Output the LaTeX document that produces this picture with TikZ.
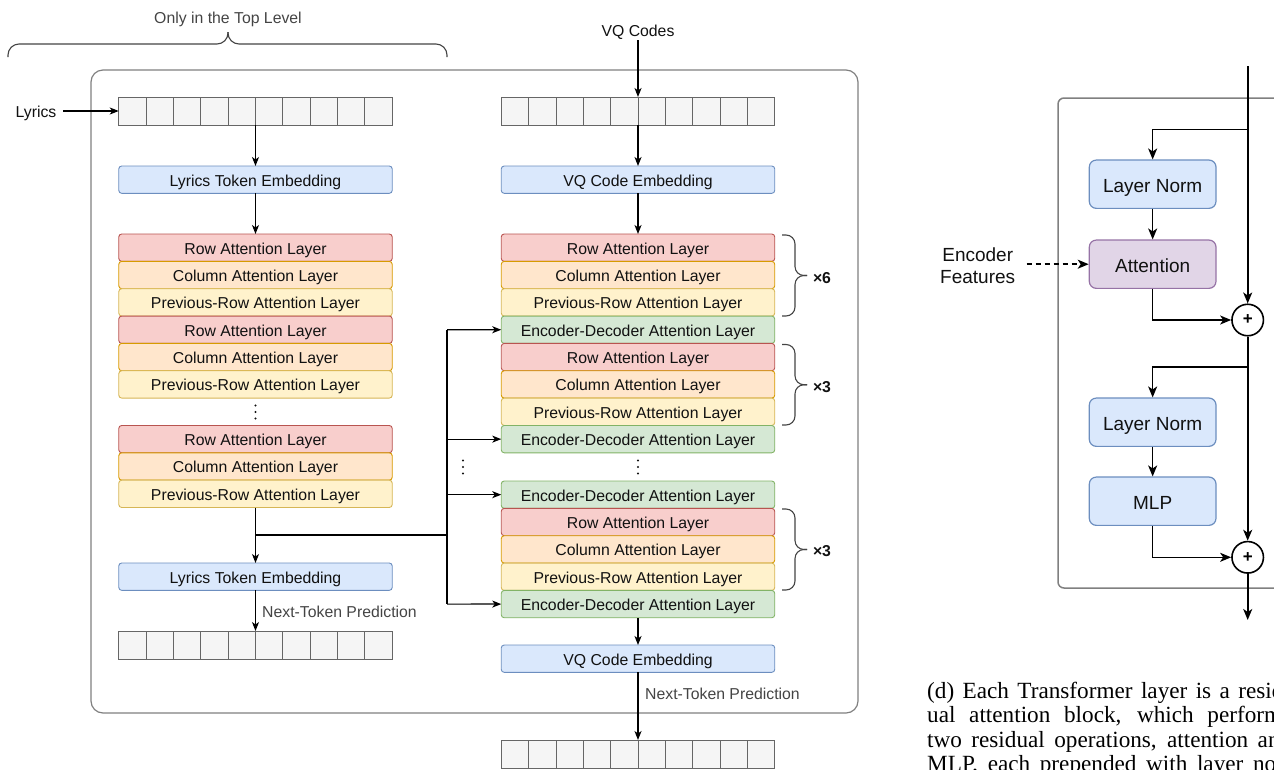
\documentclass[tikz,border=0pt]{standalone}
\usepackage{fontspec}
\setmainfont{Liberation Sans}
\newfontfamily\capfont{Liberation Serif}
\usetikzlibrary{arrows.meta,calc}
\definecolor{rowF}{HTML}{F8CECC}\definecolor{rowD}{HTML}{B85450}
\definecolor{colF}{HTML}{FFE6CC}\definecolor{colD}{HTML}{D79B00}
\definecolor{prvF}{HTML}{FFF2CC}\definecolor{prvD}{HTML}{D6B656}
\definecolor{encF}{HTML}{D5E8D4}\definecolor{encD}{HTML}{82B366}
\definecolor{bluF}{HTML}{DAE8FC}\definecolor{bluD}{HTML}{6C8EBF}
\definecolor{purF}{HTML}{E1D5E7}\definecolor{purD}{HTML}{9673A6}
\definecolor{cellF}{HTML}{F5F5F5}\definecolor{cellD}{HTML}{666666}
\definecolor{txt}{HTML}{111111}
\definecolor{gtxt}{HTML}{444444}
\definecolor{frameC}{HTML}{808080}
\newcommand\tokstrip[2]{%
  \node[strip] (#1) at (#2) {};
  \foreach \i in {1,...,9}{\draw[cellD, line width=0.9pt] ($(#1.north west)+(\i*27.35,0)$) -- ($(#1.south west)+(\i*27.35,0)$);}
}
\newcommand\rbrc[3]{%
  \draw[brc] (#1,#2) -- (#1+13,#2) -- (#1+13,{(#2+#3)/2}) -- (#1+25,{(#2+#3)/2});
  \draw[brc] (#1+25,{(#2+#3)/2}) -- (#1+13,{(#2+#3)/2}) -- (#1+13,#3) -- (#1,#3);
}
\newcommand\vdotsat[1]{%
  \fill[txt] ($(#1)+(0,-6.5)$) circle (1.1pt);
  \fill[txt] (#1) circle (1.1pt);
  \fill[txt] ($(#1)+(0,6.5)$) circle (1.1pt);
}
\begin{document}
\begin{tikzpicture}[x=1pt,y=-1pt,
  lay/.style={rounded corners=3pt, minimum width=273.5pt, minimum height=27.35pt, inner sep=0pt, outer sep=0pt, line width=0.9pt, font=\fontsize{15.8}{18}\selectfont, text=txt, text height=13pt, text depth=0pt, anchor=north},
  rowL/.style={lay, draw=rowD, fill=rowF},
  colL/.style={lay, draw=colD, fill=colF},
  prvL/.style={lay, draw=prvD, fill=prvF},
  encL/.style={lay, draw=encD, fill=encF},
  blu/.style={lay, draw=bluD, fill=bluF},
  strip/.style={draw=cellD, fill=cellF, minimum width=273.5pt, minimum height=28pt, inner sep=0pt, outer sep=0pt, line width=0.9pt},
  lab/.style={inner sep=0pt, font=\fontsize{15.8}{18}\selectfont, text=txt, text height=13pt, text depth=0pt},
  glab/.style={inner sep=0pt, font=\fontsize{15.8}{18}\selectfont, text=gtxt, text height=13pt, text depth=0pt},
  ln/.style={line width=1.2pt, draw=black},
  arr/.style={ln, -{Stealth[length=9pt,width=7pt,inset=2.5pt]}},
  brc/.style={draw=gtxt, line width=1.1pt, rounded corners=9pt},
  mult/.style={inner sep=0pt, font=\bfseries\fontsize{15.8}{18}\selectfont, text=txt, text height=13pt, text depth=0pt},
  rb/.style={rounded corners=7pt, minimum width=126.7pt, minimum height=48.3pt, inner sep=0pt, line width=1.2pt, font=\fontsize{19}{22}\selectfont, text=txt, text height=16.5pt, text depth=0pt},
  ln2/.style={line width=1.6pt, draw=black},
  arr2/.style={ln2, -{Stealth[length=11pt,width=9pt,inset=3pt]}},
  sumc/.style={circle, draw=black, fill=white, line width=1.6pt, minimum size=31.5pt, inner sep=0pt, font=\bfseries\fontsize{17}{17}\selectfont}
]
\useasboundingbox (0,0) rectangle (1274,769);
\clip (0,0) rectangle (1274,769);

% ---------- main panel ----------
\draw[frameC, line width=1.2pt, rounded corners=12pt] (91,70) rectangle (858,713);

% top brace
\node[glab] (toplvl) at (228,17) {Only in the Top Level};
\draw[brc, rounded corners=11pt] (8,57) -- (8,44) -- (228,44) -- (228,32);
\draw[brc, rounded corners=11pt] (228,32) -- (228,44) -- (447,44) -- (447,57);

% ---------- left column ----------
\node[lab] (lyr) at (36,111) {Lyrics};
\tokstrip{ltok}{255.5,111}
\node[blu] (lte1) at (255.5,166) {Lyrics Token Embedding};
\node[rowL] (lr1) at (255.5,234) {Row Attention Layer};
\node[colL] (lc1) at (255.5,261.35) {Column Attention Layer};
\node[prvL] (lp1) at (255.5,288.7) {Previous-Row Attention Layer};
\node[rowL] (lr2) at (255.5,316.05) {Row Attention Layer};
\node[colL] (lc2) at (255.5,343.4) {Column Attention Layer};
\node[prvL] (lp2) at (255.5,370.75) {Previous-Row Attention Layer};
\coordinate (ldots) at (255.5,412);
\vdotsat{ldots}
\node[rowL] (lr3) at (255.5,425.45) {Row Attention Layer};
\node[colL] (lc3) at (255.5,452.8) {Column Attention Layer};
\node[prvL] (lp3) at (255.5,480.15) {Previous-Row Attention Layer};
\node[blu] (lte2) at (255.5,563) {Lyrics Token Embedding};
\tokstrip{lout}{255.5,645}
\node[glab, anchor=west] (ntp1) at (262,611) {Next-Token Prediction};

% ---------- right column ----------
\node[lab] (vqc) at (638,29.5) {VQ Codes};
\tokstrip{rtok}{638,111}
\node[blu] (vce1) at (638,166) {VQ Code Embedding};
\node[rowL] (rr1) at (638,234) {Row Attention Layer};
\node[colL] (rc1) at (638,261.35) {Column Attention Layer};
\node[prvL] (rp1) at (638,288.7) {Previous-Row Attention Layer};
\node[encL] (re1) at (638,316.05) {Encoder-Decoder Attention Layer};
\node[rowL] (rr2) at (638,343.4) {Row Attention Layer};
\node[colL] (rc2) at (638,370.75) {Column Attention Layer};
\node[prvL] (rp2) at (638,398.1) {Previous-Row Attention Layer};
\node[encL] (re2) at (638,425.45) {Encoder-Decoder Attention Layer};
\coordinate (rdots) at (638,467);
\vdotsat{rdots}
\node[encL] (re3) at (638,481) {Encoder-Decoder Attention Layer};
\node[rowL] (rr3) at (638,508.35) {Row Attention Layer};
\node[colL] (rc3) at (638,535.7) {Column Attention Layer};
\node[prvL] (rp3) at (638,563.05) {Previous-Row Attention Layer};
\node[encL] (re4) at (638,590.4) {Encoder-Decoder Attention Layer};
\node[blu] (vce2) at (638,645) {VQ Code Embedding};
\tokstrip{rout}{638,754}
\node[glab, anchor=west] (ntp2) at (645,693) {Next-Token Prediction};
\coordinate (mdots) at (463,467);
\vdotsat{mdots}

% braces
\rbrc{782}{235}{316}
\rbrc{782}{344.5}{425}
\rbrc{782}{509}{590}
\node[mult] (x6) at (822,276.5) {×6};
\node[mult] (x3a) at (822,385.5) {×3};
\node[mult] (x3b) at (822,550) {×3};

% connectors left
\draw[arr] ([xshift=6.5pt]lyr.east) -- (ltok.west);
\draw[arr] (ltok.south) -- (lte1.north);
\draw[arr] (lte1.south) -- (lr1.north);
\draw[arr] (lp3.south) -- (lte2.north);
\draw[arr] (lte2.south) -- (lout.north);
\coordinate (jA) at (255.5,535);
\coordinate (busT) at (447,329.7);
\coordinate (busB) at (447,604.1);
\draw[ln] (jA) -- (jA -| busT);
\draw[ln] (busT) -- (busB);
\draw[arr] (busT) -- (re1.west);
\draw[arr] (re2.west -| busT) -- (re2.west);
\draw[arr] (re3.west -| busT) -- (re3.west);
\draw[arr] (busB) -- (re4.west);

% connectors right
\draw[arr] ([yshift=-4pt]vqc.south) -- (rtok.north);
\draw[arr] (rtok.south) -- (vce1.north);
\draw[arr] (vce1.south) -- (rr1.north);
\draw[arr] (re4.south) -- (vce2.north);
\draw[arr] (vce2.south) -- (rout.north);

% ---------- panel (d) ----------
\draw[frameC, line width=1.5pt, rounded corners=6pt] (1058,98) rectangle (1330,588);
\node[rb, draw=bluD, fill=bluF] (ln1) at (1152.65,184.2) {Layer Norm};
\node[rb, draw=purD, fill=purF] (att) at (1152.65,264.2) {Attention};
\node[rb, draw=bluD, fill=bluF] (ln2) at (1152.65,422.2) {Layer Norm};
\node[rb, draw=bluD, fill=bluF] (mlp) at (1152.65,501.2) {MLP};
\node[sumc] (c1) at (1247.7,320) {+};
\node[sumc] (c2) at (1247.7,557.3) {+};
\node[inner sep=0pt, align=center, font=\fontsize{19}{22}\selectfont, text=txt] (ef) at (977.7,265.5) {Encoder\\Features};
\coordinate (topin) at (1247.7,66);
\coordinate (b1) at (1247.7,129.3);
\coordinate (b2) at (1247.7,366.7);
\coordinate (outp) at (1247.7,620);
\draw[arr2] (topin) -- (c1.north);
\draw[arr2] (b1) -| (ln1.north);
\draw[arr2] (ln1.south) -- (att.north);
\draw[arr2, dash pattern=on 5pt off 4pt] (1026.7,264.2) -- (att.west);
\draw[arr2] (att.south) |- (c1.west);
\draw[arr2] (c1.south) -- (c2.north);
\draw[arr2] (b2) -| (ln2.north);
\draw[arr2] (ln2.south) -- (mlp.north);
\draw[arr2] (mlp.south) |- (c2.west);
\draw[arr2] (c2.south) -- (outp);

% caption
\node[anchor=base west, inner sep=0pt] (cap) at (927,698) {\parbox[t]{364pt}{\capfont\fontsize{23.2}{24.5}\selectfont (d) Each Transformer layer is a resid-\linebreak ual attention block, which performs\linebreak two residual operations, attention and\linebreak MLP, each prepended with layer normalization.}};
\end{tikzpicture}
\end{document}
